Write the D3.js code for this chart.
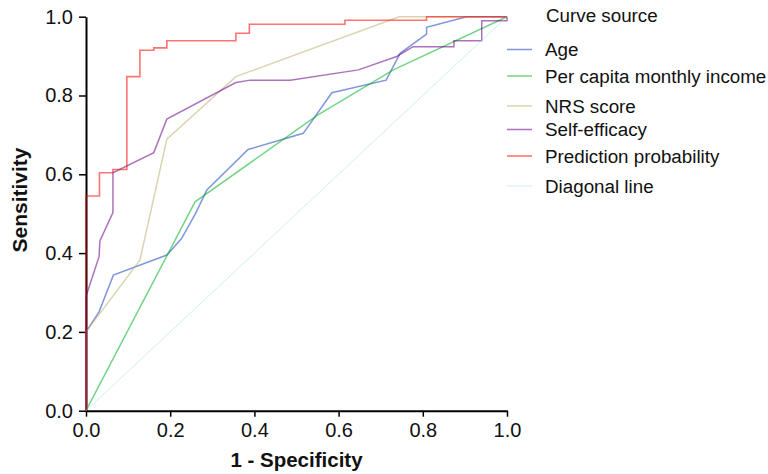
<!DOCTYPE html>
<html>
<head>
<meta charset="utf-8">
<script src="https://cdn.jsdelivr.net/npm/d3@7"></script>
<style>
  body { margin: 0; background: #fff; }
  svg { display: block; font-family: "Liberation Sans", Arial, sans-serif; }
</style>
</head>
<body>
<div id="chart"></div>
<script>
// ROC curve vertices [1 - specificity, sensitivity]
const age = [[0,0],[0,0.2],[0.031,0.251],[0.065,0.344],[0.192,0.395],[0.227,0.437],[0.26,0.5],[0.287,0.56],
  [0.385,0.663],[0.516,0.704],[0.584,0.807],[0.713,0.839],[0.746,0.907],[0.809,0.956],[0.809,0.973],[0.904,1],[1,1]];
const income = [[0,0],[0.259,0.53],[0.55,0.75],[0.73,0.865],[1,1]];
const nrs = [[0,0],[0,0.2],[0.128,0.382],[0.192,0.689],[0.356,0.848],[0.744,1],[1,1]];
const selfEfficacy = [[0,0],[0,0.29],[0.031,0.391],[0.033,0.431],[0.064,0.503],[0.064,0.604],[0.161,0.655],
  [0.192,0.74],[0.356,0.833],[0.39,0.839],[0.485,0.839],[0.647,0.865],[0.738,0.899],[0.777,0.924],[0.874,0.924],
  [0.874,0.939],[0.94,0.939],[0.94,0.99],[1,0.99],[1,1]];
const prediction = [[0,0],[0,0.545],[0.032,0.545],[0.032,0.604],[0.064,0.604],[0.064,0.612],[0.097,0.612],
  [0.097,0.848],[0.128,0.848],[0.128,0.915],[0.161,0.915],[0.161,0.921],[0.192,0.921],[0.192,0.939],
  [0.356,0.939],[0.356,0.958],[0.388,0.958],[0.388,0.981],[0.615,0.981],[0.615,0.991],[0.809,0.991],[0.809,1],[1,1]];
const diagonal = [[0,0],[1,1]];

const seriesNames = ['Age', 'Per capita monthly income', 'NRS score', 'Self-efficacy', 'Prediction probability', 'Diagonal line'];
const seriesData = [age, income, nrs, selfEfficacy, prediction, diagonal];
const tickValues = [0, 0.2, 0.4, 0.6, 0.8, 1.0];

// styling
const colors = ['#0030b8', '#00b024', '#bdb070', '#680085', '#ff0000', '#a0e0e0'];
const opacities = [0.5, 0.55, 0.55, 0.55, 0.55, 0.5];
const widths = [1.5, 1.5, 1.5, 1.5, 1.6, 1];
const legendY = [49.5, 76, 106, 129.5, 156, 186];

const W = 768, H = 474;
const margin = { top: 16.7, right: 261, bottom: 63.3, left: 86 };

const svg = d3.select('#chart').append('svg')
  .attr('width', W)
  .attr('height', H);

const x = d3.scaleLinear().domain([0, 1]).range([margin.left, W - margin.right]);
const y = d3.scaleLinear().domain([0, 1]).range([H - margin.bottom, margin.top]);

// Axes
const xAxis = svg.append('g')
  .attr('transform', `translate(0,${y(0)})`)
  .call(d3.axisBottom(x).tickValues(tickValues).tickFormat(d3.format('.1f')).tickSize(6).tickSizeOuter(0).tickPadding(6));
const yAxis = svg.append('g')
  .attr('transform', `translate(${x(0)},0)`)
  .call(d3.axisLeft(y).tickValues(tickValues).tickFormat(d3.format('.1f')).tickSize(7).tickSizeOuter(0).tickPadding(6));

[xAxis, yAxis].forEach(a => {
  a.select('.domain').attr('stroke', '#000').attr('stroke-width', 2);
  a.selectAll('.tick line').attr('stroke', '#000').attr('stroke-width', 1.5);
  a.selectAll('.tick text')
    .attr('fill', '#111')
    .attr('font-size', '20px')
    .attr('font-family', '"Liberation Sans", Arial, sans-serif');
});

// Axis titles
svg.append('text')
  .attr('x', (x(0) + x(1)) / 2)
  .attr('y', 467)
  .attr('text-anchor', 'middle')
  .attr('font-size', '20.5px')
  .attr('font-weight', 'bold')
  .attr('fill', '#111')
  .text('1 - Specificity');

svg.append('text')
  .attr('transform', 'translate(27,200) rotate(-90)')
  .attr('text-anchor', 'middle')
  .attr('font-size', '21px')
  .attr('font-weight', 'bold')
  .attr('fill', '#111')
  .text('Sensitivity');

// Curves
const line = d3.line()
  .x(d => x(d[0]))
  .y(d => y(d[1]));

svg.append('g')
  .selectAll('path')
  .data(seriesData)
  .join('path')
  .attr('d', line)
  .attr('fill', 'none')
  .attr('stroke', (d, i) => colors[i])
  .attr('stroke-opacity', (d, i) => opacities[i])
  .attr('stroke-width', (d, i) => widths[i])
  .attr('stroke-linejoin', 'miter');

// Legend
const legend = svg.append('g');
legend.append('text')
  .attr('x', 546)
  .attr('y', 22)
  .attr('font-size', '18.8px')
  .attr('fill', '#111')
  .text('Curve source');

const item = legend.selectAll('g.item')
  .data(seriesNames)
  .join('g')
  .attr('class', 'item')
  .attr('transform', (d, i) => `translate(0,${legendY[i]})`);

item.append('line')
  .attr('x1', 507)
  .attr('x2', 532)
  .attr('stroke', (d, i) => colors[i])
  .attr('stroke-opacity', (d, i) => opacities[i])
  .attr('stroke-width', (d, i) => widths[i]);

item.append('text')
  .attr('x', 545)
  .attr('dy', '0.36em')
  .attr('font-size', '18.8px')
  .attr('fill', '#111')
  .text(d => d);
</script>
</body>
</html>
